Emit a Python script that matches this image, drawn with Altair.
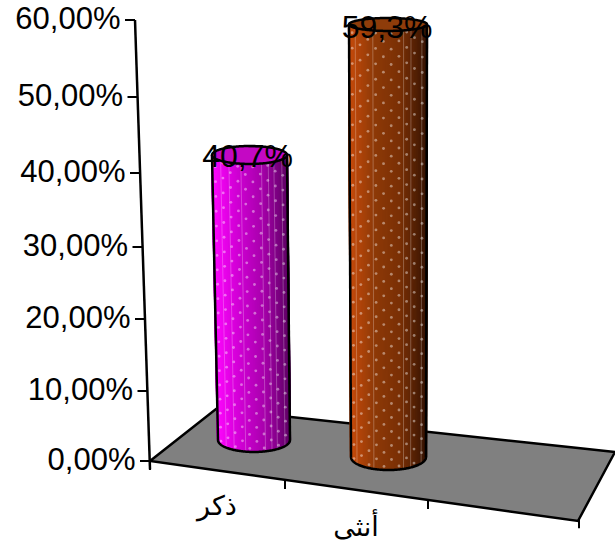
import altair as alt
import numpy as np
import pandas as pd

categories = ["ذكر", "أنثى"]
shares = [40.7, 59.3]
y_ticks = [0, 10, 20, 30, 40, 50, 60]
y_tick_labels = ["0,00%", "10,00%", "20,00%", "30,00%", "40,00%", "50,00%", "60,00%"]

# Value axis of the oblique view: slightly stretched towards the top.
Y_RANGE = [461, 391, 319, 247, 173, 97, 20]
FONT = "Liberation Sans"
INK = "#000000"

x_scale = alt.Scale(domain=[0, 615], range=[0, 615])
y_scale = alt.Scale(domain=y_ticks, range=Y_RANGE)
X = alt.X("x:Q", scale=x_scale, axis=None)
Y = alt.Y("y:Q", scale=y_scale, axis=None)


def axis_x(v):
    return 150 - 0.25 * v


# Floor quadrilateral, heights in value units.
floor_front = ([150, 578, 615], [0.0, -8.57, 1.29])
floor_back = ([150, 216, 615], [0.0, 7.43, 1.29])
floor_xs = [150, 216, 578, 615]
floor_df = pd.DataFrame({
    "x": floor_xs,
    "y": np.interp(floor_xs, *floor_back),
    "y2": np.interp(floor_xs, *floor_front),
})
floor = alt.Chart(floor_df).mark_area(
    color="#808080", stroke=INK, strokeWidth=2.5, opacity=1
).encode(X, Y, y2="y2:Q")

# Value axis: spine, ticks and labels.
spine = alt.Chart(pd.DataFrame({
    "x": [axis_x(60)], "x2": [axis_x(0)], "y": [60], "y2": [-1.2]
})).mark_rule(color=INK, strokeWidth=2.5).encode(X, Y, x2="x2:Q", y2="y2:Q")

ticks_df = pd.DataFrame({
    "x": [axis_x(v) - 10 for v in y_ticks],
    "x2": [axis_x(v) for v in y_ticks],
    "lx": [axis_x(v) - 14.5 for v in y_ticks],
    "y": y_ticks,
    "label": y_tick_labels,
})
y_tick_marks = alt.Chart(ticks_df).mark_rule(color=INK, strokeWidth=2).encode(X, Y, x2="x2:Q")
y_tick_text = alt.Chart(ticks_df).mark_text(
    font=FONT, fontSize=31, align="right", baseline="middle", color=INK
).encode(alt.X("lx:Q", scale=x_scale, axis=None), Y, text="label:N")

# Category axis ticks along the front edge of the floor.
front_ticks = [150, 285, 428, 579]
front_heights = np.interp(front_ticks, *floor_front[:2])
front_tick_df = pd.DataFrame({"x": front_ticks, "y": front_heights, "y2": front_heights - 1.3})
x_tick_marks = alt.Chart(front_tick_df).mark_rule(color=INK, strokeWidth=2).encode(X, Y, y2="y2:Q")

cat_label_df = pd.DataFrame({"x": [217, 356], "y": [-6.6, -9.5], "label": categories})
x_tick_text = alt.Chart(cat_label_df).mark_text(
    font="DejaVu Sans", fontSize=27, align="center", baseline="middle", color=INK
).encode(X, Y, text="label:N")

# Cylinder geometry per category: screen centres and radii, lift from the
# floor depth, and the vertical half axes of the end ellipses (value units).
cylinders = [
    dict(value=shares[0], xb=254, xt=249.5, rb=36, rt=37.5, base=3.0, lift=1.67, ryb=1.71, ryt=1.18,
         stops=["#ff08ff", "#d000d4", "#a800ac", "#620068"], top="#c408c4",
         streaks=[-0.77, -0.55, -0.23, 0.32, 0.5, 0.65, 0.86]),
    dict(value=shares[1], xb=388.5, xt=388, rb=37.5, rt=39, base=0.57, lift=0.12, ryb=1.86, ryt=0.84,
         stops=["#c84c0c", "#8e3a08", "#7a3006", "#3a1604"], top="#8e3c0a",
         streaks=[-0.84, -0.39, 0.4, 0.59, 0.87]),
]


def shade(stops, t):
    rgb = np.array([[int(s[i:i + 2], 16) for i in (1, 3, 5)] for s in stops])
    pos = np.linspace(0, 1, len(stops))
    return "#%02x%02x%02x" % tuple(int(np.interp(t, pos, rgb[:, c])) for c in range(3))


def cylinder_layers(c):
    top_h = c["value"] + c["lift"]
    theta = np.linspace(np.pi, 0, 120)
    f = np.cos(theta)
    s = np.sin(theta)
    xb = c["xb"] + c["rb"] * f
    xt = c["xt"] + c["rt"] * f
    yb = c["base"] - c["ryb"] * s
    yt = top_h - c["ryt"] * s

    # Side wall as narrow shaded strips.
    strips = pd.DataFrame({
        "x": xb, "x2": xt, "y": yb, "y2": yt,
        "c": [shade(c["stops"], (v + 1) / 2) for v in f],
    })
    wall = alt.Chart(strips).mark_rule(strokeWidth=2.2).encode(
        X, Y, x2="x2:Q", y2="y2:Q", color=alt.Color("c:N", scale=None)
    )

    # Fabric texture: staggered dots and thin vertical streaks.
    rows = []
    cols = np.arange(-0.92, 0.95, 0.2)
    for i, col in enumerate(cols):
        root = np.sqrt(1 - col ** 2)
        lo = c["base"] - c["ryb"] * root
        hi = top_h - c["ryt"] * root
        for h in np.arange(lo + 0.5 + (i % 2), hi - 0.2, 2.0):
            frac = (h - c["base"]) / (top_h - c["base"])
            rows.append({
                "x": c["xb"] + (c["xt"] - c["xb"]) * frac + (c["rb"] + (c["rt"] - c["rb"]) * frac) * col,
                "y": h,
            })
    dots = alt.Chart(pd.DataFrame(rows)).mark_point(
        filled=True, color="#ffffff", opacity=0.42, size=8, strokeWidth=0
    ).encode(X, Y)

    st = np.array(c["streaks"])
    root = np.sqrt(1 - st ** 2)
    streak_df = pd.DataFrame({
        "x": c["xb"] + c["rb"] * st,
        "x2": c["xt"] + c["rt"] * st,
        "y": c["base"] - c["ryb"] * root,
        "y2": top_h - c["ryt"] * root,
    })
    streaks = alt.Chart(streak_df).mark_rule(color="#ffffff", opacity=0.25, strokeWidth=1).encode(
        X, Y, x2="x2:Q", y2="y2:Q"
    )

    # Outline: both sides, lower rim and the top disc.
    sides = alt.Chart(pd.DataFrame({
        "x": [xb[0], xb[-1]], "x2": [xt[0], xt[-1]], "y": [yb[0], yb[-1]], "y2": [yt[0], yt[-1]],
    })).mark_rule(color=INK, strokeWidth=2.5).encode(X, Y, x2="x2:Q", y2="y2:Q")
    rim = alt.Chart(pd.DataFrame({"x": xb, "y": yb})).mark_line(color=INK, strokeWidth=2.5).encode(X, Y)
    disc = alt.Chart(pd.DataFrame({"x": xt, "y": top_h + c["ryt"] * s, "y2": yt})).mark_area(
        color=c["top"], stroke=INK, strokeWidth=2.5, opacity=1
    ).encode(X, Y, y2="y2:Q")
    return [wall, streaks, dots, sides, rim, disc]


bar_layers = [layer for c in cylinders for layer in cylinder_layers(c)]

value_label_df = pd.DataFrame({
    "x": [c["xt"] + (-2 if i == 0 else -1) for i, c in enumerate(cylinders)],
    "y": [c["value"] + c["lift"] - d for i, (c, d) in enumerate(zip(cylinders, [0.3, 0.45]))],
    "label": [f"{c['value']:.1f}%".replace(".", ",") for c in cylinders],
})
value_labels = alt.Chart(value_label_df).mark_text(
    font=FONT, fontSize=32, align="center", baseline="middle", color=INK
).encode(X, Y, text="label:N")

chart = alt.layer(
    floor, spine, y_tick_marks, x_tick_marks, y_tick_text, x_tick_text, *bar_layers, value_labels
).properties(
    width=615, height=547, padding=0, autosize=alt.AutoSizeParams(type="none"), background="#ffffff"
).configure_view(stroke=None)

chart.save("out.html", embed_options={"renderer": "svg", "actions": False})
